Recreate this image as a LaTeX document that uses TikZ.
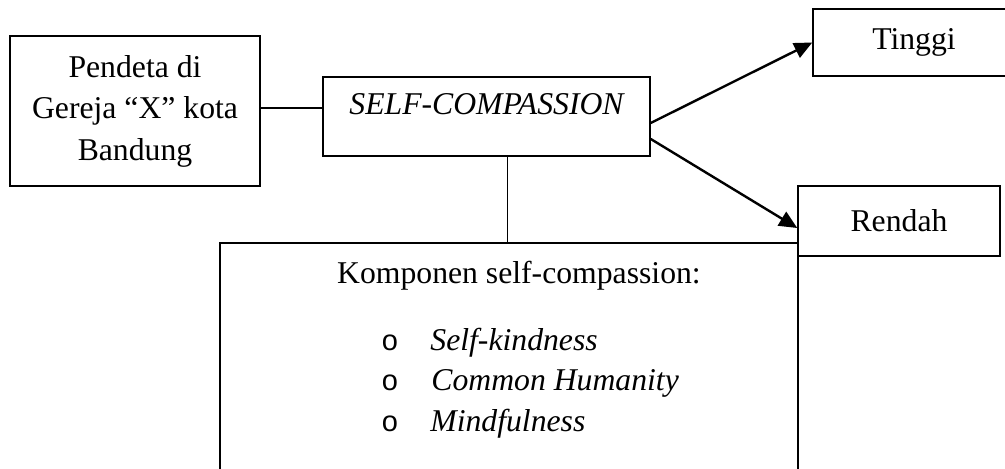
\documentclass[tikz,border=0pt]{standalone}
\usepackage{fontspec}
\setmainfont{Liberation Serif}
\newfontfamily\bulletfont{Liberation Sans}
\usepackage{tikz}
\usetikzlibrary{arrows.meta,calc,positioning}
\tikzstyle{box}=[draw, line width=0.75pt, inner sep=0pt, font=\fontsize{15.85}{20.75}\selectfont]
\tikzstyle{bigBox}=[draw, line width=1.2pt, inner sep=0pt, font=\fontsize{15.85}{20.75}\selectfont]
\tikzstyle{edge}=[line width=0.85pt]
\tikzstyle{arrowEdge}=[-{Triangle[length=9pt, width=8pt]}, line width=1.2pt]
\tikzstyle{bulletT}=[inner sep=0pt, anchor=base, font=\bulletfont\fontsize{14.5}{16}\selectfont]
\tikzstyle{itemT}=[inner sep=0pt, anchor=base west, font=\itshape\fontsize{15.85}{20}\selectfont]

\begin{document}
\begin{tikzpicture}[x=0.5pt, y=-0.5pt]
      \useasboundingbox (0,0) rectangle (1005,469);
      \node(pendeta) [box, align=center, minimum width=125pt, minimum height=75pt] at (135, 111){Pendeta di\\Gereja ``X'' kota\\Bandung};
      \node(selfc) [box, anchor=base, minimum width=163.5pt, text height=19pt, text depth=20.5pt] at (486.5, 115){\itshape SELF-COMPASSION};
      \node(tinggi) [box, minimum width=101pt, minimum height=33.5pt] at (914, 42.5){Tinggi};
      \node(rendah) [box, minimum width=101pt, minimum height=35pt] at (899, 221){Rendah};
      \node(komponen) [bigBox, anchor=north, minimum width=289pt, text height=20pt, text depth=112pt] at (509, 242){\hspace*{10pt}Komponen self-compassion:};
      \node(b1) [bulletT] at (390, 351){o};
      \node(b2) [bulletT] at (390, 391){o};
      \node(b3) [bulletT] at (390, 431){o};
      \node(kind) [itemT] at (430, 351){Self-kindness};
      \node(human) [itemT] at (431, 391){Common Humanity};
      \node(mind) [itemT] at (430, 431){Mindfulness};
      \coordinate(linkL) at ($(pendeta.east)+(0,-3)$);
      \coordinate(linkD) at ($(selfc.south)+(21,0)$);
      \coordinate(outT) at ($(selfc.east)+(0,6.5)$);
      \coordinate(outR) at ($(selfc.east)+(0,22.5)$);
      \coordinate(inR) at ($(rendah.west)+(0,7)$);
      \draw[edge] (linkL) to (linkL -| selfc.west);
      \draw[edge] (linkD) to (linkD |- komponen.north);
      \draw[arrowEdge] (outT) to (tinggi.west);
      \draw[arrowEdge] (outR) to (inR);
    \end{tikzpicture}
\end{document}
